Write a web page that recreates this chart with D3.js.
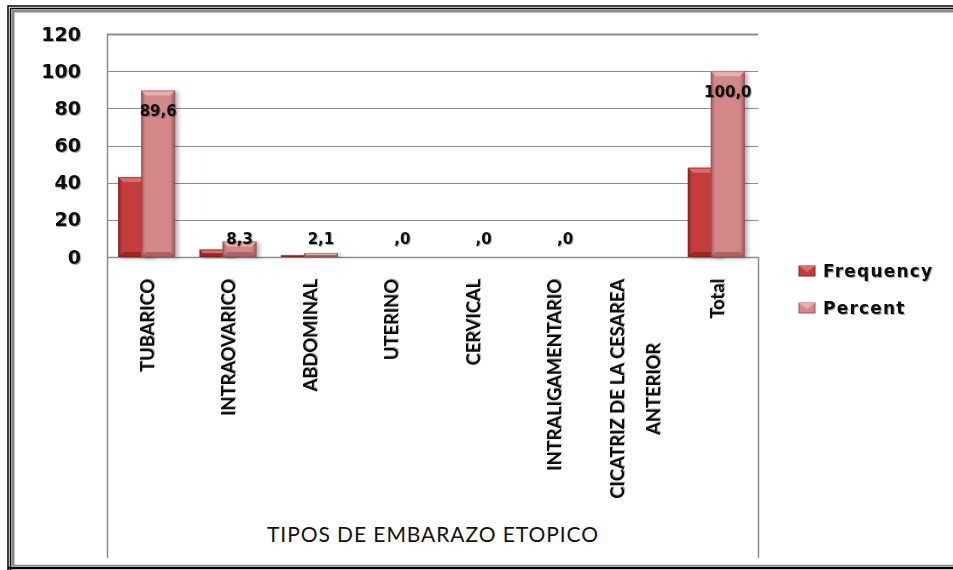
<!DOCTYPE html>
<html>
<head>
<meta charset="utf-8">
<script src="https://cdn.jsdelivr.net/npm/d3@7"></script>
<style>
  html, body { margin: 0; padding: 0; background: #fff; }
  svg { display: block; }
</style>
</head>
<body>
<svg id="chart" width="953" height="570"></svg>
<script>
// ---- data ----
const categories = ["TUBARICO", "INTRAOVARICO", "ABDOMINAL", "UTERINO", "CERVICAL",
  "INTRALIGAMENTARIO", "CICATRIZ DE LA CESAREA\nANTERIOR", "Total"];
const frequency = [43, 4, 1, 0, 0, 0, null, 48];
const percent = [89.6, 8.3, 2.1, 0, 0, 0, null, 100.0];
const seriesNames = ["Frequency", "Percent"];
const yTicks = [0, 20, 40, 60, 80, 100, 120];
const axisTitle = "TIPOS DE EMBARAZO ETOPICO";

// ---- layout ----
const svg = d3.select("#chart");
const W = 953, H = 570;
const plot = { left: 107, right: 758, top: 34, bottom: 257, boxBottom: 558 };

const x = d3.scaleBand().domain(categories).range([plot.left, plot.right]).padding(0);
const y = d3.scaleLinear().domain([0, 120]).range([plot.bottom, plot.top]);

const defs = svg.append("defs");
function hGrad(id, edge, mid) {
  const g = defs.append("linearGradient").attr("id", id).attr("x1", "0").attr("x2", "1").attr("y1", "0").attr("y2", "0");
  g.append("stop").attr("offset", "0").attr("stop-color", edge);
  g.append("stop").attr("offset", "0.12").attr("stop-color", mid);
  g.append("stop").attr("offset", "0.85").attr("stop-color", mid);
  g.append("stop").attr("offset", "1").attr("stop-color", edge);
}
hGrad("gFreq", "#8a2020", "#c43c3c");
hGrad("gPct", "#9c5656", "#d48787");
const sh = defs.append("filter").attr("id", "shadow").attr("x", "-20%").attr("y", "-10%").attr("width", "160%").attr("height", "130%");
sh.append("feDropShadow").attr("dx", 3).attr("dy", 1).attr("stdDeviation", 2).attr("flood-color", "#000").attr("flood-opacity", 0.3);
const ts = defs.append("filter").attr("id", "tshadow").attr("x", "-10%").attr("y", "-20%").attr("width", "130%").attr("height", "150%");
ts.append("feDropShadow").attr("dx", 1).attr("dy", 1).attr("stdDeviation", 0.6).attr("flood-color", "#000").attr("flood-opacity", 0.35);

// ---- frame ----
const frame = svg.append("g");
frame.append("path").attr("d", `M8,${H} V6 H${W}`).attr("fill", "none").attr("stroke", "#000").attr("stroke-width", 1.5);
frame.append("path").attr("d", `M10.5,${H} V8.5 H${W}`).attr("fill", "none").attr("stroke", "#000").attr("stroke-width", 1.5);
frame.append("path").attr("d", `M13,${H - 4} V11 H${W}`).attr("fill", "none").attr("stroke", "#8a8a8a").attr("stroke-width", 3);
frame.append("line").attr("x1", 8).attr("x2", W).attr("y1", 568).attr("y2", 568).attr("stroke", "#000").attr("stroke-width", 2.5);
frame.append("line").attr("x1", 13).attr("x2", W).attr("y1", 565.5).attr("y2", 565.5).attr("stroke", "#8a8a8a").attr("stroke-width", 1.5);

// ---- gridlines ----
const grid = svg.append("g");
grid.selectAll("line.g").data(yTicks.filter(d => d > 0)).join("line")
  .attr("x1", plot.left).attr("x2", plot.right)
  .attr("y1", d => Math.round(y(d)) + 0.5).attr("y2", d => Math.round(y(d)) + 0.5)
  .attr("stroke", "#8c8c8c").attr("stroke-width", d => d === 120 ? 2 : 1.2);

// axes lines
svg.append("line").attr("x1", plot.left).attr("x2", plot.right).attr("y1", plot.bottom + 0.5).attr("y2", plot.bottom + 0.5)
  .attr("stroke", "#8c8c8c").attr("stroke-width", 1.5);
svg.append("line").attr("x1", plot.left + 0.5).attr("x2", plot.left + 0.5).attr("y1", plot.top).attr("y2", plot.boxBottom)
  .attr("stroke", "#8c8c8c").attr("stroke-width", 1.5);
svg.append("line").attr("x1", plot.right + 0.5).attr("x2", plot.right + 0.5).attr("y1", plot.bottom).attr("y2", plot.boxBottom)
  .attr("stroke", "#8c8c8c").attr("stroke-width", 1.5);

// y tick labels
const yAxis = d3.axisLeft(y).tickValues(yTicks).tickSize(0).tickPadding(0);
const ya = svg.append("g").attr("transform", `translate(81,0)`).call(yAxis);
ya.select(".domain").remove();
ya.selectAll("text").attr("font-family", "DejaVu Sans").attr("font-weight", "bold")
  .attr("font-size", 19).attr("fill", "#111").attr("filter", "url(#tshadow)").attr("x", 0);

// ---- bars ----
const barW = 34, overlap = 11;
const groupW = 2 * barW - overlap;
function cx(i) { return x(categories[i]) + x.bandwidth() / 2; }
function drawBar(g, x0, v, grad, top, bot) {
  if (v === null) return;
  const yt = y(v), h = plot.bottom - yt;
  if (h <= 0) return;
  g.append("rect").attr("x", x0).attr("y", yt).attr("width", barW).attr("height", h)
    .attr("fill", `url(#${grad})`).attr("filter", "url(#shadow)");
  const bev = Math.min(5, h / 2);
  g.append("path").attr("d", `M${x0},${yt} H${x0 + barW} L${x0 + barW - bev},${yt + bev} H${x0 + bev} Z`).attr("fill", top);
  g.append("path").attr("d", `M${x0},${plot.bottom} H${x0 + barW} L${x0 + barW - bev},${plot.bottom - bev} H${x0 + bev} Z`).attr("fill", bot).attr("fill-opacity", 0.6);
  g.append("rect").attr("x", x0 + 0.5).attr("y", yt + 0.5).attr("width", barW - 1).attr("height", h - 1)
    .attr("fill", "none").attr("stroke", bot).attr("stroke-opacity", 0.5);
}
const bars = svg.append("g");
categories.forEach((c, i) => {
  const left = cx(i) - groupW / 2 - 1;
  drawBar(bars, left, frequency[i], "gFreq", "#e06a6a", "#7a1c1c");
});
categories.forEach((c, i) => {
  const left = cx(i) - groupW / 2 - 1 + barW - overlap;
  drawBar(bars, left, percent[i], "gPct", "#eab0b0", "#8e4c4c");
});

// ---- data labels (percent) ----
function fmt(v) { let s = v.toFixed(1).replace(".", ","); if (s.startsWith("0,")) s = s.slice(1); return s; }
const lbl = svg.append("g");
percent.forEach((v, i) => {
  if (v === null) return;
  const lx = cx(i) - groupW / 2 - 1 + barW - overlap + barW / 2;
  const ly = v > 50 ? y(v) + 20 : plot.bottom - 18;
  lbl.append("text").attr("x", lx).attr("y", ly).attr("dy", "0.36em").attr("text-anchor", "middle")
    .attr("font-family", "DejaVu Sans").attr("font-weight", "bold").attr("font-size", 15)
    .attr("fill", "#111").attr("filter", "url(#tshadow)").text(fmt(v));
});

// ---- category labels ----
const catG = svg.append("g");
const catFont = "Lato";
// fit font size so that the first label has about the reference length
const probe = catG.append("text").attr("font-family", catFont).attr("font-weight", "bold").attr("font-size", 20).text(categories[0]);
const catSize = 20 * 93 / probe.node().getComputedTextLength();
probe.remove();
categories.forEach((c, i) => {
  const lines = c.split("\n");
  const t = catG.append("text").attr("font-family", catFont).attr("font-weight", "bold")
    .attr("font-size", catSize).attr("fill", "#111").attr("filter", "url(#tshadow)");
  const lineGap = 36;
  const n = lines.length;
  lines.forEach((ln, k) => { t.append("tspan").text(ln); });
  const spans = t.selectAll("tspan").nodes();
  const lens = spans.map(s => s.getComputedTextLength());
  const maxL = d3.max(lens);
  const cxx = cx(i);
  spans.forEach((s, k) => {
    const off = (k - (n - 1) / 2) * lineGap;
    const ycenter = 279 + maxL / 2;
    d3.select(s).attr("x", -ycenter).attr("y", cxx + off).attr("dy", "0.35em").attr("text-anchor", "middle");
  });
  t.attr("transform", "rotate(-90)");
});

// ---- axis title ----
svg.append("text").attr("x", (plot.left + plot.right) / 2).attr("y", 534.5).attr("dy", "0.35em")
  .attr("text-anchor", "middle").attr("font-family", catFont).attr("font-size", 21)
  .attr("fill", "#111").attr("textLength", 331).attr("lengthAdjust", "spacing").text(axisTitle);

// ---- legend ----
const leg = svg.append("g");
const legendColors = [["#c43c3c", "#8a2020", "#e06a6a"], ["#d48787", "#9c5656", "#eab0b0"]];
seriesNames.forEach((s, i) => {
  const ly = 271 + i * 37;
  leg.append("rect").attr("x", 799).attr("y", ly - 5).attr("width", 16).attr("height", 10)
    .attr("fill", legendColors[i][0]).attr("stroke", legendColors[i][1]).attr("stroke-width", 1);
  leg.append("path").attr("d", `M799,${ly - 5} H815 L807,${ly + 1} Z`).attr("fill", legendColors[i][2]);
  leg.append("text").attr("x", 823).attr("y", ly).attr("dy", "0.36em")
    .attr("font-family", "DejaVu Sans").attr("font-weight", "bold").attr("font-size", 17)
    .attr("letter-spacing", 1.2).attr("fill", "#111").attr("filter", "url(#tshadow)").text(s);
});
</script>
</body>
</html>
